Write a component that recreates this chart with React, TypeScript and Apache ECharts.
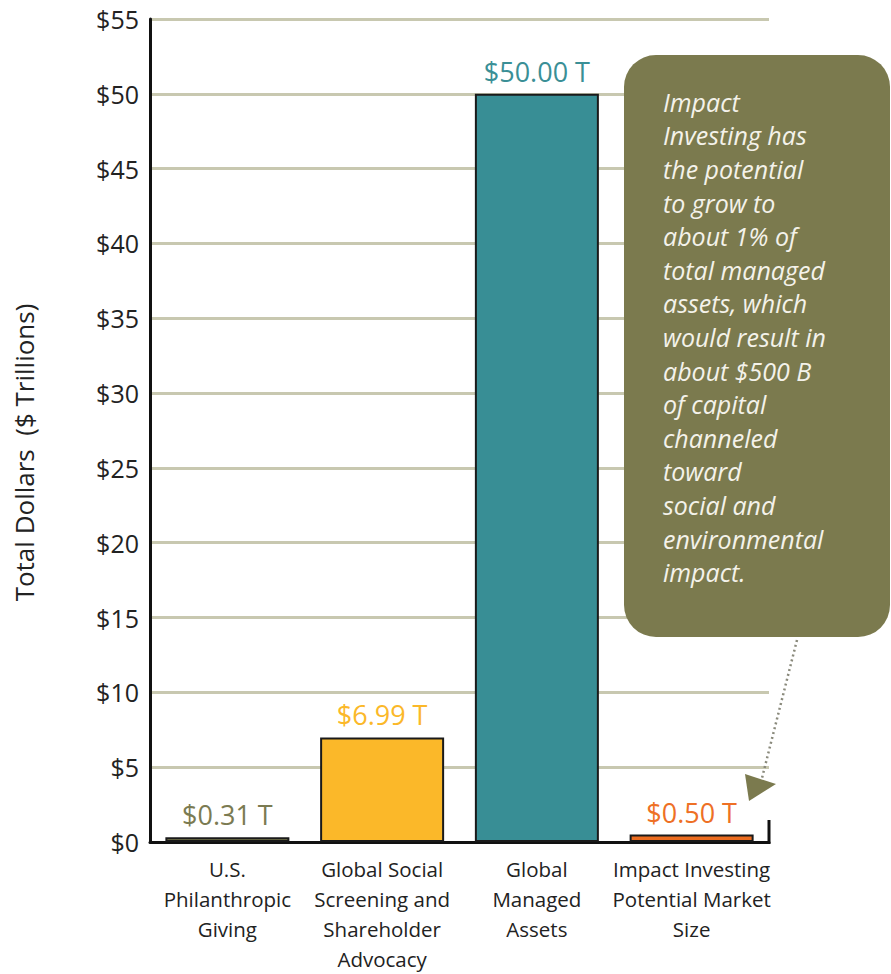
import React, { useEffect, useRef } from "react";
import * as echarts from "echarts";

const categories = [
  "U.S.\nPhilanthropic\nGiving",
  "Global Social\nScreening and\nShareholder\nAdvocacy",
  "Global\nManaged\nAssets",
  "Impact Investing\nPotential Market\nSize",
];
const values = [0.31, 6.99, 50.0, 0.5];
const barColors = ["#7a7a4c", "#fbb829", "#388e95", "#ec6c1f"];
const labelColors = ["#7b7b52", "#fbb829", "#3a8f96", "#ee7025"];
const yTicks = { min: 0, max: 55, interval: 5 };
const calloutLines = [
  "Impact",
  "Investing has",
  "the potential",
  "to grow to",
  "about 1% of",
  "total managed",
  "assets, which",
  "would result in",
  "about $500 B",
  "of capital",
  "channeled",
  "toward",
  "social and",
  "environmental",
  "impact.",
];

const FONT = "'Open Sans', Lato, sans-serif";

export default function App() {
  const ref = useRef<HTMLDivElement>(null);
  useEffect(() => {
    if (!ref.current) return;
    const chart = echarts.init(ref.current, undefined, { renderer: "svg" });
    chart.setOption({
      animation: false,
      textStyle: { fontFamily: FONT },
      grid: { left: 150, right: 122, top: 19, bottom: 132 },
      xAxis: {
        type: "category",
        data: categories,
        axisLine: { show: true, lineStyle: { color: "#111", width: 3 } },
        axisTick: { show: false },
        axisLabel: {
          color: "#222",
          fontSize: 20.5,
          lineHeight: 30,
          margin: 12,
          interval: 0,
          fontFamily: FONT,
        },
      },
      yAxis: {
        type: "value",
        min: yTicks.min,
        max: yTicks.max,
        interval: yTicks.interval,
        name: "Total Dollars  ($ Trillions)",
        nameLocation: "middle",
        nameGap: 113,
        nameTextStyle: {
          color: "#222",
          fontSize: 26,
          fontFamily: FONT,
          padding: [0, 44, 0, 0],
        },
        axisLine: { show: true, lineStyle: { color: "#111", width: 3 } },
        axisTick: { show: false },
        axisLabel: {
          color: "#222",
          fontSize: 25,
          margin: 11,
          formatter: (v: number) => "$" + v,
          fontFamily: FONT,
        },
        splitLine: { show: true, lineStyle: { color: "#c8c8b0", width: 3 } },
      },
      series: [
        {
          type: "bar",
          barWidth: 124,
          data: values.map((v, i) => ({
            value: v,
            itemStyle: { color: barColors[i], borderColor: "#1a1a1a", borderWidth: 2 },
            label: { color: labelColors[i] },
          })),
          label: {
            show: true,
            position: "top",
            distance: 9,
            fontSize: 27,
            fontFamily: FONT,
            formatter: (p: any) => "$" + Number(p.value).toFixed(2) + " T",
          },
        },
      ],
      graphic: [
        {
          type: "line",
          shape: { x1: 769, y1: 820, x2: 769, y2: 844 },
          style: { stroke: "#111", lineWidth: 3 },
        },
        {
          type: "rect",
          shape: { x: 624, y: 55, width: 266, height: 582, r: 32 },
          style: { fill: "#7b7a4e" },
          z: 10,
        },
        {
          type: "text",
          x: 663,
          y: 85,
          z: 11,
          style: {
            text: calloutLines.join("\n"),
            fill: "#f4f2ea",
            font: "italic 25px " + FONT,
            lineHeight: 33.6,
          },
        },
        {
          type: "line",
          shape: { x1: 797, y1: 640, x2: 761, y2: 782 },
          style: { stroke: "#8a8a7c", lineWidth: 2.5, lineDash: [2, 3] },
          z: 10,
        },
        {
          type: "polygon",
          shape: { points: [[745, 774], [776, 784], [749, 801]] },
          style: { fill: "#7b7a4e" },
          z: 10,
        },
      ],
    });
    return () => chart.dispose();
  }, []);
  return (
    <div
      ref={ref}
      style={{ position: "absolute", left: 0, top: 0, width: 891, height: 974 }}
    />
  );
}
